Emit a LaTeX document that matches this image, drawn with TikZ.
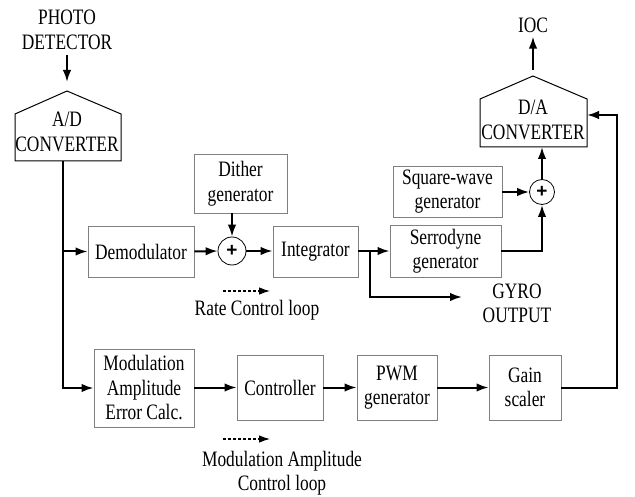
\documentclass[tikz,border=0pt]{standalone}
\usepackage{fontspec}
\setmainfont{Liberation Serif}[FakeStretch=0.79]
\newfontfamily\plusfont{Liberation Sans}
\usetikzlibrary{arrows.meta}
\begin{document}
\begin{tikzpicture}[x=1pt,y=-1pt,
  font=\fontsize{22}{24.5}\selectfont,
  blk/.style={draw=black!50, line width=0.9pt, rectangle, inner sep=0pt, align=center},
  txt/.style={inner sep=0pt, align=center},
  pent/.style={draw=black, line width=1pt},
  sumc/.style={draw=black, line width=0.8pt, circle, minimum size=#1, inner sep=0pt, font=\plusfont\bfseries\fontsize{19}{19}\selectfont},
  arr/.style={line width=2pt, -{Latex[length=12pt,width=8.5pt]}},
  darr/.style={line width=1.1pt, dash pattern=on 3pt off 2pt, -{Latex[length=11pt,width=7.5pt]}}]
\useasboundingbox (0,0) rectangle (635,497);

% A/D converter
\node[txt] (pd) at (67,30) {PHOTO\\DETECTOR};
\draw[pent] (15,161) -- (15,114) -- (67,91) -- (121,114) -- (121,161) -- cycle;
\coordinate (adtop) at (67,91);
\coordinate (adbot) at (63,161);
\node[txt] (adt) at (67,132) {A/D\\CONVERTER};
\draw[arr, shorten <=5pt, shorten >=9pt] (pd.south) -- (adtop);

% D/A converter
\node[txt] (ioc) at (533,25) {IOC};
\draw[pent] (480,147) -- (480,99) -- (533,76) -- (587,99) -- (587,147) -- cycle;
\coordinate (datop) at (533,76);
\coordinate (dabot) at (542,147);
\coordinate (daR) at (587,115);
\node[txt] (dat) at (533,120) {D/A\\CONVERTER};
\draw[arr, shorten <=6pt, shorten >=4pt] (datop) -- (ioc.south);

% boxes
\node[blk, minimum width=106pt, minimum height=51pt] (dem) at (141,251.5) {Demodulator};
\node[blk, minimum width=93pt, minimum height=59pt] (dith) at (240.5,183.5) {Dither\\generator};
\node[sumc=28pt] (s1) at (232,251) {+};
\node[blk, minimum width=85pt, minimum height=51pt] (integ) at (315.5,251.5) {Integrator};
\node[blk, minimum width=111pt, minimum height=52pt] (serr) at (445.5,251) {Serrodyne\\generator};
\node[blk, minimum width=109pt, minimum height=51pt] (sq) at (447.5,191.5) {Square-wave\\generator};
\node[sumc=25pt] (s2) at (542,192) {+};
\node[txt] (gyro) at (517,303.5) {GYRO\\OUTPUT};

\node[blk, minimum width=100pt, minimum height=78pt] (mod) at (144,388) {Modulation\\Amplitude\\Error Calc.};
\node[blk, minimum width=86pt, minimum height=65pt] (ctrl) at (280,387.5) {Controller};
\node[blk, minimum width=80pt, minimum height=65pt] (pwm) at (397,387.5) {PWM\\generator};
\node[blk, minimum width=72pt, minimum height=65pt] (gain) at (525,387.5) {Gain\\scaler};

\node[txt] (rcl) at (257,310) {Rate Control loop};
\node[txt] (macl) at (282,473) {Modulation Amplitude\\Control loop};

% connectors
\coordinate (j1) at (63,251.5);
\draw[arr] (adbot) |- (mod.west);
\draw[arr] (j1) -- (dem.west);
\draw[arr] (dem.east) -- (s1.west);
\draw[arr] (s1 |- dith.south) -- (s1.north);
\draw[arr] (s1.east) -- (integ.west |- s1.east);
\coordinate (j2) at (370,251);
\coordinate (gy) at (462,297);
\draw[arr] (integ.east |- j2) -- (serr.west);
\draw[arr] (j2) |- (gy);
\draw[arr] (sq.east |- s2.west) -- (s2.west);
\draw[arr] (serr.east) -| (s2.south);
\draw[arr] (s2.north) -- (dabot);
\coordinate (fb) at (617,115);
\draw[arr] (gain.east) -| (fb) -- (daR);
\draw[arr] (mod.east |- ctrl.west) -- (ctrl.west);
\draw[arr] (ctrl.east) -- (pwm.west);
\draw[arr] (pwm.east) -- (gain.west);

\coordinate (d1a) at (223,291);
\coordinate (d1b) at (270,291);
\draw[darr] (d1a) -- (d1b);
\coordinate (d2a) at (223,439);
\coordinate (d2b) at (270,439);
\draw[darr] (d2a) -- (d2b);
\end{tikzpicture}
\end{document}
